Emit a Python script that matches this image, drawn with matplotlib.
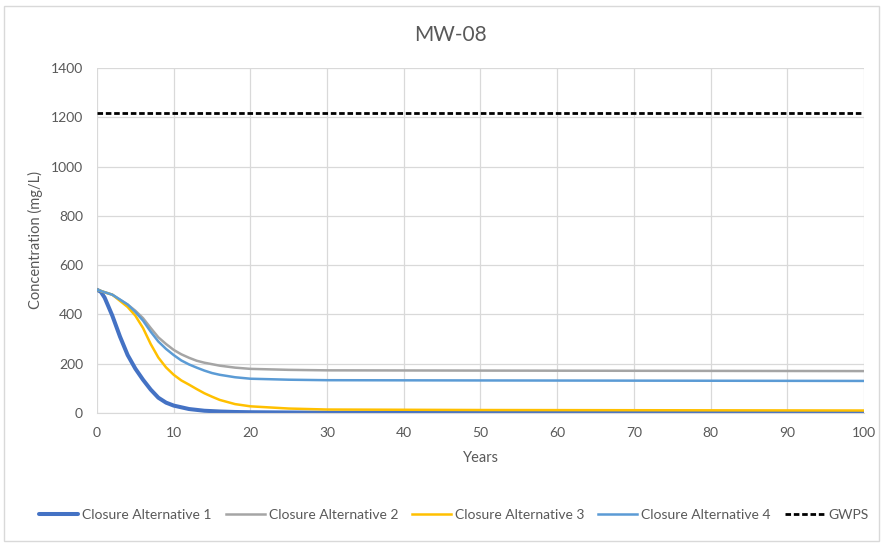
import matplotlib
matplotlib.use("Agg")
import matplotlib.pyplot as plt
from matplotlib.patches import Rectangle

# Values
years_1 = [0, 0.5, 1, 2, 3, 4, 5, 6, 7, 8, 9, 10, 12, 14, 16, 18, 20, 25, 30, 100]
alt_1 = [500, 492, 468, 395, 310, 235, 180, 135, 95, 62, 42, 30, 16, 9, 6, 4, 3, 2, 1, 1]

years_2 = [0, 2, 4, 5, 6, 7, 8, 9, 10, 11, 12, 13, 14, 15, 16, 18, 20, 25, 30, 50, 100]
alt_2 = [500, 480, 440, 415, 385, 345, 307, 280, 256, 238, 224, 212, 204, 198, 192, 184, 179, 175, 173, 172, 170]

years_3 = [0, 2, 4, 5, 6, 7, 8, 9, 10, 11, 12, 13, 14, 15, 16, 18, 20, 25, 30, 50, 100]
alt_3 = [500, 480, 430, 395, 345, 280, 225, 185, 155, 132, 115, 97, 80, 66, 53, 36, 27, 18, 14, 12, 10]

years_4 = [0, 2, 4, 5, 6, 7, 8, 9, 10, 11, 12, 13, 14, 15, 16, 18, 20, 25, 30, 50, 100]
alt_4 = [500, 480, 440, 410, 375, 330, 290, 260, 235, 213, 197, 184, 172, 162, 155, 145, 139, 135, 133, 132, 130]

gwps_years = [0, 100]
gwps = [1217, 1217]

text_color = "#595959"
grid_color = "#d9d9d9"
plt.rcParams["font.family"] = ["Lato", "DejaVu Sans"]

fig = plt.figure(figsize=(8.84, 5.48), dpi=100)
ax = fig.add_axes([0.1097, 0.2464, 0.8677, 0.6295])

ax.plot(years_1, alt_1, color="#4472C4", lw=2.9, label="Closure Alternative 1",
        solid_capstyle="round", solid_joinstyle="round")
ax.plot(years_2, alt_2, color="#A5A5A5", lw=1.8, label="Closure Alternative 2", solid_joinstyle="round")
ax.plot(years_3, alt_3, color="#FFC000", lw=1.8, label="Closure Alternative 3", solid_joinstyle="round")
ax.plot(years_4, alt_4, color="#5B9BD5", lw=1.8, label="Closure Alternative 4", solid_joinstyle="round")
ax.plot(gwps_years, gwps, color="black", lw=2.0, ls=(0, (2, 1)), label="GWPS")

ax.set_xlim(0, 100)
ax.set_ylim(0, 1400)
ax.set_xticks(range(0, 101, 10))
ax.set_yticks(range(0, 1401, 200))
ax.grid(True, color=grid_color, lw=0.9)
ax.set_axisbelow(True)
for side in ["top", "right", "left"]:
    ax.spines[side].set_visible(False)
ax.spines["bottom"].set_color(grid_color)
ax.tick_params(length=0, labelsize=10, colors=text_color)
ax.tick_params(axis="x", pad=10)
ax.tick_params(axis="y", pad=10)

ax.set_xlabel("Years", fontsize=10.5, color=text_color, labelpad=9)
ax.set_ylabel("Concentration (mg/L)", fontsize=10.5, color=text_color, labelpad=6)
fig.text(0.509, 0.936, "MW-08", ha="center", va="center", fontsize=15, color=text_color)

ax.legend(loc="center", bbox_to_anchor=(0.465, -0.295), ncol=5, frameon=False,
          fontsize=10, labelcolor=text_color, handlelength=2.8, handletextpad=0.3,
          columnspacing=1.0)

fig.patches.append(Rectangle((0.005, 0.012), 0.989, 0.977, transform=fig.transFigure,
                             fill=False, edgecolor=grid_color, lw=1))

fig.savefig("out.png", dpi=100)
